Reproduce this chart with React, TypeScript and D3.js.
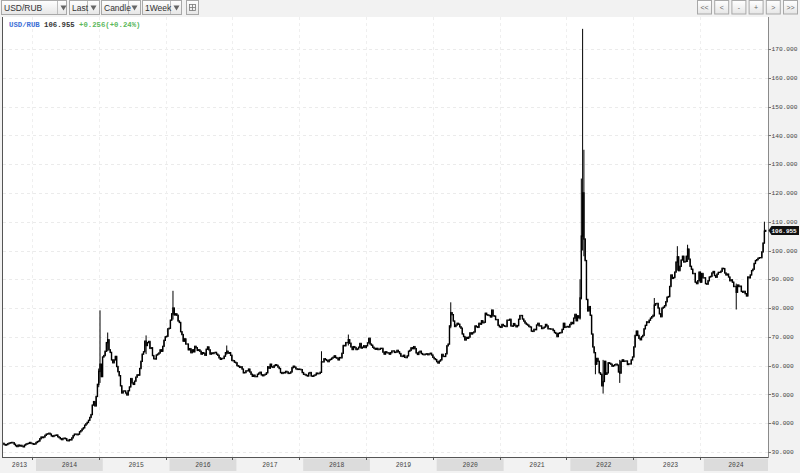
import React from "react";
import * as d3 from "d3";

const W = 800;
const H = 473;

// Weekly closes (week ending Friday). Each array starts at the given Friday.
const close2013 = [33.0, 32.6, 32.4, 32.6, 32.9, 33.1, 33.2, 33.3, 33.2, 32.7, 32.2, 31.9, 32.4, 32.1, 32.3, 32.0, 31.8, 32.4, 32.7, 32.9, 33.0, 33.3, 33.0, 32.9, 32.7, 32.8];
const close2014 = [33.3, 33.6, 33.8, 34.6, 35.2, 35.0, 35.2, 35.8, 36.2, 36.3, 36.5, 36.2, 35.6, 35.4, 35.7, 35.8, 35.9, 35.3, 35.0, 34.6, 34.3, 34.7, 34.8, 34.6, 34.0, 33.9, 34.3, 34.2, 34.9, 35.7, 36.2, 36.2, 36.0, 36.2, 37.0, 37.4, 38.0, 38.4, 39.3, 39.8, 40.3, 41.0, 42.0, 43.0, 46.3, 47.5, 46.0, 49.3, 53.5, 58.0, 60.5, 56.2];
const close2015 = [63.0, 63.5, 65.0, 68.0, 69.0, 65.5, 64.6, 62.0, 61.0, 62.0, 63.2, 59.7, 57.9, 56.5, 53.0, 50.5, 51.2, 51.2, 50.5, 49.8, 51.3, 52.6, 55.5, 54.0, 53.5, 54.6, 56.0, 56.8, 56.7, 59.0, 61.5, 64.0, 64.8, 68.5, 67.0, 68.0, 68.4, 66.0, 66.2, 63.5, 62.4, 62.3, 63.7, 64.0, 64.4, 65.5, 65.0, 66.7, 68.8, 70.0, 70.2, 72.8];
const close2016 = [73.0, 75.8, 78.0, 80.0, 77.6, 78.0, 77.5, 75.5, 75.0, 71.8, 70.8, 68.5, 69.3, 67.5, 67.5, 65.5, 65.9, 64.5, 65.5, 64.8, 66.7, 66.2, 65.3, 65.5, 65.0, 64.0, 64.5, 64.3, 63.6, 65.7, 66.5, 65.5, 64.0, 64.4, 64.2, 64.5, 64.6, 64.0, 63.6, 62.7, 62.2, 62.5, 62.5, 63.3, 64.5, 65.0, 64.3, 64.5, 63.6, 61.8, 61.7, 61.2, 61.0];
const close2017 = [60.0, 59.8, 59.4, 59.6, 58.8, 57.5, 57.6, 58.2, 58.2, 58.8, 57.8, 57.0, 56.3, 56.7, 56.2, 56.2, 57.0, 57.4, 57.7, 56.8, 56.5, 56.8, 57.0, 57.5, 59.6, 59.1, 60.5, 59.6, 59.4, 60.0, 60.3, 60.1, 59.5, 59.0, 57.6, 57.3, 57.6, 57.5, 58.0, 57.8, 57.3, 57.4, 57.8, 59.3, 59.8, 59.5, 58.9, 58.7, 58.8, 58.7, 58.6, 57.6];
const close2018 = [57.0, 56.9, 56.6, 56.4, 57.4, 57.6, 56.4, 56.3, 56.6, 56.8, 57.4, 57.2, 57.3, 57.7, 61.3, 61.3, 62.4, 62.1, 61.8, 61.4, 62.0, 62.2, 62.6, 62.9, 63.4, 62.8, 62.6, 62.0, 62.8, 62.7, 64.3, 67.0, 66.9, 68.0, 68.0, 69.0, 67.8, 66.5, 65.6, 66.6, 66.3, 65.6, 65.8, 66.4, 67.7, 66.1, 66.4, 66.9, 66.3, 66.9, 67.9, 69.5];
const close2019 = [67.5, 67.1, 66.4, 66.0, 65.7, 66.0, 65.6, 65.7, 66.0, 66.0, 64.7, 64.0, 64.8, 64.5, 64.4, 64.0, 64.5, 65.1, 65.1, 64.6, 64.7, 65.3, 64.8, 64.2, 63.3, 63.2, 63.6, 62.9, 62.8, 63.4, 65.0, 65.3, 66.2, 65.9, 66.6, 65.9, 64.4, 63.9, 64.7, 65.0, 64.2, 63.9, 63.8, 64.0, 64.1, 63.8, 64.1, 64.3, 63.7, 62.9, 62.4, 62.1];
const close2020 = [61.4, 60.9, 61.6, 62.0, 63.9, 63.2, 63.2, 64.1, 66.9, 67.5, 73.8, 78.4, 77.7, 75.5, 73.6, 74.1, 74.7, 74.4, 73.5, 73.0, 71.0, 70.1, 68.9, 69.8, 69.5, 69.9, 71.4, 71.0, 71.4, 71.7, 73.8, 73.5, 73.3, 74.7, 74.4, 75.6, 74.9, 75.1, 78.2, 77.7, 77.5, 77.4, 76.9, 79.3, 77.3, 77.2, 76.0, 76.0, 74.0, 73.5, 73.3, 74.3];
const close2021 = [73.9, 73.7, 73.6, 75.8, 75.8, 76.1, 73.8, 73.7, 74.6, 74.0, 73.5, 73.9, 76.1, 77.4, 77.4, 76.2, 75.5, 74.8, 74.4, 74.1, 73.6, 73.4, 72.0, 71.9, 72.6, 72.5, 74.1, 74.7, 73.8, 73.8, 72.9, 73.1, 73.4, 74.3, 73.8, 72.8, 72.8, 72.7, 72.7, 72.2, 71.5, 71.2, 70.1, 71.2, 71.4, 71.5, 72.6, 74.7, 73.3, 73.5, 73.6, 73.4, 74.3];
const close2022 = [75.0, 74.6, 76.5, 77.8, 75.6, 77.3, 76.6, 83.5, 105.0, 120.0, 104.0, 96.5, 83.0, 79.0, 80.5, 77.5, 71.0, 66.5, 64.5, 60.5, 62.5, 61.5, 57.5, 57.0, 53.0, 54.5, 61.5, 57.0, 57.5, 61.0, 60.8, 60.5, 59.8, 60.0, 60.3, 60.5, 60.2, 57.8, 57.4, 61.5, 62.0, 61.5, 61.6, 61.6, 60.4, 60.6, 60.6, 62.0, 63.0, 66.5, 70.5, 72.0];
const close2023 = [70.5, 69.5, 69.0, 70.0, 70.5, 72.8, 74.0, 75.2, 75.0, 75.8, 76.5, 77.0, 77.5, 81.0, 81.5, 81.6, 80.0, 78.0, 77.0, 80.0, 80.3, 80.8, 82.2, 83.8, 84.0, 87.5, 91.5, 90.3, 90.6, 92.5, 96.0, 97.8, 93.0, 94.5, 96.7, 98.0, 96.0, 96.2, 98.0, 100.5, 97.0, 94.5, 93.5, 92.0, 92.0, 89.0, 88.5, 89.5, 92.5, 89.0, 92.0, 90.5];
const close2024 = [90.5, 88.5, 88.3, 89.5, 90.8, 91.0, 92.2, 92.7, 91.3, 90.7, 91.8, 92.4, 92.4, 92.8, 93.8, 93.7, 92.2, 91.5, 91.8, 90.8, 89.5, 89.8, 89.0, 87.5, 87.5, 85.5, 88.0, 87.5, 87.6, 85.8, 85.5, 85.8, 85.0, 84.2, 90.8, 90.5, 91.5, 93.0, 93.5, 95.5, 96.5, 96.8, 97.3, 97.5, 97.5, 99.5, 102.6, 106.699, 106.955];

const yearStarts = ["2013-07-05", "2014-01-03", "2015-01-02", "2016-01-01", "2017-01-06", "2018-01-05", "2019-01-04", "2020-01-03", "2021-01-01", "2022-01-07", "2023-01-06", "2024-01-05"];
const yearCloses = [close2013, close2014, close2015, close2016, close2017, close2018, close2019, close2020, close2021, close2022, close2023, close2024];

// Intraweek extremes visible as long wicks
const wickDates = ["2014-12-12", "2014-12-19", "2015-01-30", "2015-08-28", "2016-01-22", "2016-11-11", "2018-04-13", "2018-09-07", "2020-03-20", "2022-02-25", "2022-03-04", "2022-03-11", "2022-03-18", "2022-05-20", "2022-07-01", "2022-09-30", "2023-04-07", "2023-08-11", "2023-10-06", "2024-06-28", "2024-11-29"];
const wickHighs = [59.0, 79.2, 71.5, 70.5, 86.0, 67.0, 65.0, 70.8, 82.0, 90.0, 125.0, 177.0, 135.0, 64.0, 62.0, 62.0, 83.5, 101.5, 102.0, 88.5, 110.0];
const wickLows = [52.5, 54.0, 65.0, 64.0, 76.0, 63.8, 57.5, 67.0, 73.0, 76.0, 83.0, 100.0, 98.0, 57.0, 50.3, 54.0, 77.0, 93.0, 96.0, 79.5, 102.5];

const yTicks = [30, 40, 50, 60, 70, 80, 90, 100, 110, 120, 130, 140, 150, 160, 170];
const years = [2013, 2014, 2015, 2016, 2017, 2018, 2019, 2020, 2021, 2022, 2023, 2024];
const symbol = "USD/RUB";
const lastPrice = 106.955;
const lastChange = "+0.256(+0.24%)";
const menus = [
  { label: "USD/RUB", x: 1, w: 65, sep: 56 },
  { label: "Last", x: 69, w: 30, sep: 18 },
  { label: "Candle", x: 101, w: 39, sep: 27 },
  { label: "1Week", x: 142, w: 39, sep: 28 },
];
const navButtons = ["<<", "<", "-", "+", ">", ">>"];

const PL = 3, PR = 768, PT = 17, PB = 457;

export default function App() {
  const parse = d3.utcParse("%Y-%m-%d");
  const fmt = d3.utcFormat("%Y-%m-%d");
  const x = d3.scaleUtc().domain([new Date(Date.UTC(2014, 0, 1)), new Date(Date.UTC(2025, 0, 1))]).range([36, 770.8]);
  const y = d3.scaleLinear().domain([30, 170]).range([452, 49]);

  const wick = new Map<string, [number, number]>();
  wickDates.forEach((d, i) => wick.set(d, [wickHighs[i], wickLows[i]]));

  type C = { date: Date; o: number; h: number; l: number; c: number };
  const candles: C[] = [];
  let prev = close2013[0];
  yearStarts.forEach((s, k) => {
    const d0 = parse(s)!;
    yearCloses[k].forEach((c, i) => {
      const date = d3.utcDay.offset(d0, 7 * i);
      const o = prev;
      let h = Math.max(o, c);
      let l = Math.min(o, c);
      const w = wick.get(fmt(date));
      if (w) {
        h = Math.max(h, w[0]);
        l = Math.min(l, w[1]);
      }
      candles.push({ date, o, h, l, c });
      prev = c;
    });
  });

  const cx = (d: Date) => x(d3.utcDay.offset(d, -2));
  const bw = 1.4;
  const yearX = (yr: number) => x(new Date(Date.UTC(yr, 0, 1)));
  const tickXs = years.slice(1).map((yr) => yearX(yr) - 4);

  const tagY = y(lastPrice);

  return (
    <div>
      <style>{`body{margin:0;background:#f2f2f2}`}</style>
      <svg width={W} height={H} style={{ display: "block" }} fontFamily="'Liberation Sans', Arial, sans-serif">
        <rect x={0} y={0} width={W} height={H} fill="#f2f2f2" />
        <defs>
          <linearGradient id="btn" x1="0" y1="0" x2="0" y2="1">
            <stop offset="0" stopColor="#ffffff" />
            <stop offset="1" stopColor="#e6e6e6" />
          </linearGradient>
          <clipPath id="plotClip">
            <rect x={PL} y={PT} width={PR - PL} height={PB - PT} />
          </clipPath>
        </defs>
        {/* toolbar */}
        {menus.map((m) => (
          <g key={m.label}>
            <rect x={m.x + 0.5} y={0.5} width={m.w} height={14} fill="url(#btn)" stroke="#a8a8a8" />
            <line x1={m.x + m.sep + 0.5} x2={m.x + m.sep + 0.5} y1={1} y2={14} stroke="#bdbdbd" />
            <text x={m.x + 3} y={11} fontSize={8.5} fill="#333">{m.label}</text>
            <path d={`M${m.x + m.sep + 3.5},5.5 h6 l-3,5 z`} fill="#666" />
          </g>
        ))}
        <g>
          <rect x={186.5} y={0.5} width={12} height={14} fill="url(#btn)" stroke="#a8a8a8" />
          <rect x={189.5} y={4.5} width={6} height={6} fill="none" stroke="#777" strokeWidth={0.8} />
          <line x1={189.5} x2={195.5} y1={7.5} y2={7.5} stroke="#777" strokeWidth={0.8} />
          <line x1={192.5} x2={192.5} y1={4.5} y2={10.5} stroke="#777" strokeWidth={0.8} />
        </g>
        {navButtons.map((b, i) => {
          const bx = 697 + i * 17.2;
          return (
            <g key={i}>
              <rect x={bx + 0.5} y={0.5} width={14} height={13.5} fill="url(#btn)" stroke="#a8a8a8" />
              <text x={bx + 7.5} y={10} fontSize={7} fill="#666" textAnchor="middle">{b}</text>
            </g>
          );
        })}

        {/* plot area */}
        <rect x={PL} y={PT} width={PR - PL} height={PB - PT} fill="#ffffff" />
        {yTicks.map((v) => (
          <line key={v} x1={PL} x2={PR} y1={Math.round(y(v)) + 0.5} y2={Math.round(y(v)) + 0.5} stroke="#ebebeb" strokeDasharray="3,3" />
        ))}
        {tickXs.map((tx, i) => (
          <line key={i} x1={Math.round(tx) + 0.5} x2={Math.round(tx) + 0.5} y1={PT} y2={PB} stroke="#efefef" strokeDasharray="3,3" />
        ))}

        {/* legend */}
        <text x={9} y={27} fontSize={7.3} fontFamily="'Liberation Mono', monospace" fontWeight="bold">
          <tspan fill="#3d6fd6">{symbol}</tspan>
          <tspan fill="#333"> {lastPrice.toFixed(3)}</tspan>
          <tspan fill="#5cb85c"> {lastChange}</tspan>
        </text>

        {/* candles */}
        <g clipPath="url(#plotClip)">
          {candles.map((d, i) => (
            <g key={i}>
              <line x1={cx(d.date)} x2={cx(d.date)} y1={y(d.h)} y2={y(d.l)} stroke="#000" strokeWidth={1} />
              <rect
                x={cx(d.date) - bw / 2}
                y={y(Math.max(d.o, d.c)) - 0.7}
                width={bw}
                height={Math.max(1.4, Math.abs(y(d.o) - y(d.c)) + 1.4)}
                fill="#000"
              />
            </g>
          ))}
        </g>

        {/* plot frame */}
        <line x1={PL - 0.5} x2={PL - 0.5} y1={PT} y2={PB} stroke="#555" />
        <line x1={PL - 1} x2={PR} y1={PB + 0.5} y2={PB + 0.5} stroke="#555" />
        <line x1={PR + 0.5} x2={PR + 0.5} y1={PT} y2={PB + 1} stroke="#8a8a8a" />

        {/* y axis */}
        {yTicks.map((v) => (
          <g key={v}>
            <line x1={PR} x2={PR + 3} y1={Math.round(y(v)) + 0.5} y2={Math.round(y(v)) + 0.5} stroke="#777" />
            <text x={PR + 3.5} y={y(v)} dy="0.35em" fontSize={6.2} fill="#444" fontFamily="'Liberation Mono', monospace">
              {v.toFixed(3)}
            </text>
          </g>
        ))}
        {/* last price tag */}
        <path d={`M${PR + 0.5},${tagY} L${PR + 3.5},${tagY - 4.5} H799 V${tagY + 4.5} H${PR + 3.5} Z`} fill="#111" />
        <text x={PR + 3.5} y={tagY} dy="0.35em" fontSize={6} fill="#fff" fontFamily="'Liberation Mono', monospace" fontWeight="bold">
          {lastPrice.toFixed(3)}
        </text>

        {/* x axis */}
        {years.map((yr, i) => {
          const a = Math.max(PL, yearX(yr));
          const b = Math.min(PR, yearX(yr + 1));
          return (
            <g key={yr}>
              {i % 2 === 1 && <rect x={a} y={458.5} width={b - a} height={12.5} fill="#dcdcdc" />}
              <text x={(a + b) / 2} y={465} dy="0.35em" fontSize={6.4} fill="#444" textAnchor="middle" fontFamily="'Liberation Mono', monospace">
                {yr}
              </text>
            </g>
          );
        })}
        {tickXs.map((tx, i) => (
          <line key={i} x1={Math.round(tx) + 0.5} x2={Math.round(tx) + 0.5} y1={PB} y2={PB + 3} stroke="#555" />
        ))}
      </svg>
    </div>
  );
}
